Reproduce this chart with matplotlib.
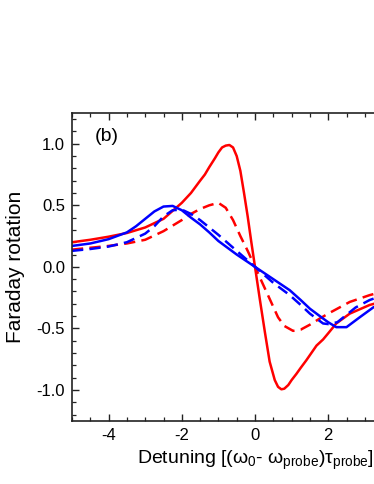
import matplotlib
matplotlib.use("Agg")
import matplotlib.pyplot as plt
from matplotlib.ticker import MultipleLocator, FormatStrFormatter

plt.rcParams['font.family'] = ['Liberation Sans', 'DejaVu Sans']
plt.rcParams['mathtext.fontset'] = 'custom'
plt.rcParams['mathtext.rm'] = 'Liberation Sans'
plt.rcParams['mathtext.it'] = 'Liberation Sans'
plt.rcParams['axes.unicode_minus'] = False

# Red solid
rs_x = [-5, -4.5, -4, -3.5, -3, -2.5, -2, -1.75, -1.5, -1.37, -1.25, -1.1, -1.0, -0.9, -0.8,
        -0.7, -0.6, -0.5, -0.4, -0.3, -0.2, -0.1, 0, 0.13, 0.27, 0.4, 0.54, 0.63, 0.72, 0.8,
        0.91, 1.0, 1.13, 1.25, 1.4, 1.68, 1.86, 2.0, 2.22, 2.59, 3.13, 3.5]
rs_y = [0.20, 0.22, 0.245, 0.275, 0.32, 0.39, 0.52, 0.60, 0.70, 0.75, 0.81, 0.88, 0.93, 0.97,
        0.985, 0.99, 0.97, 0.90, 0.78, 0.60, 0.41, 0.20, 0.0, -0.26, -0.53, -0.77, -0.92,
        -0.975, -0.995, -0.99, -0.96, -0.92, -0.87, -0.82, -0.76, -0.64, -0.59, -0.54, -0.46,
        -0.38, -0.31, -0.28]

# Red dashed
rd_x = [-5, -4.5, -4, -3.5, -3, -2.5, -2, -1.75, -1.5, -1.25, -1.0, -0.8, -0.6, -0.4, -0.2, 0,
        0.2, 0.4, 0.63, 0.8, 1.04, 1.25, 1.5, 1.77, 2.0, 2.59, 3.13, 3.5]
rd_y = [0.14, 0.155, 0.17, 0.19, 0.22, 0.29, 0.38, 0.43, 0.47, 0.50, 0.52, 0.48, 0.38, 0.25,
        0.13, 0.0, -0.13, -0.26, -0.41, -0.48, -0.52, -0.51, -0.47, -0.42, -0.38, -0.285,
        -0.23, -0.20]

# Blue solid
bs_x = [-5, -4.5, -4, -3.5, -3.25, -3, -2.75, -2.5, -2.25, -2, -1.75, -1.5, -1.25, -1.0, -0.5,
        0, 0.5, 0.95, 1.25, 1.5, 1.86, 2.0, 2.22, 2.5, 2.86, 3.23, 3.5]
bs_y = [0.17, 0.19, 0.225, 0.28, 0.33, 0.39, 0.45, 0.49, 0.495, 0.46, 0.40, 0.345, 0.28, 0.21,
        0.10, 0.0, -0.10, -0.19, -0.27, -0.34, -0.42, -0.45, -0.49, -0.49, -0.41, -0.33, -0.29]

# Blue dashed
bd_x = [-5, -4.5, -4, -3.5, -3, -2.75, -2.5, -2.25, -2, -1.75, -1.5, -1.25, -1.0, -0.5, 0, 0.5,
        0.95, 1.25, 1.5, 1.86, 2.0, 2.25, 2.5, 2.75, 3.13, 3.5]
bd_y = [0.13, 0.145, 0.165, 0.20, 0.27, 0.33, 0.41, 0.46, 0.465, 0.43, 0.38, 0.32, 0.26, 0.13,
        0.0, -0.13, -0.23, -0.31, -0.38, -0.46, -0.465, -0.45, -0.39, -0.33, -0.27, -0.23]

x_ticks = [-4, -2, 0, 2]
y_ticks = [-1.0, -0.5, 0.0, 0.5, 1.0]

fig = plt.figure(figsize=(3.74, 4.84), dpi=100)
ax = fig.add_axes([72/374, 1 - 420.7/484, 366/374, (420.7 - 113)/484])

lw = 1.8
ax.plot(rs_x, rs_y, color='#ff0000', lw=lw)
ax.plot(rd_x, rd_y, color='#ff0000', lw=lw, dashes=(4.5, 2.5))
ax.plot(bs_x, bs_y, color='#0000ff', lw=lw)
ax.plot(bd_x, bd_y, color='#0000ff', lw=lw, dashes=(4.5, 2.5))

ax.set_xlim(-5, 5)
ax.set_ylim(-1.25, 1.25)
ax.set_xticks(x_ticks)
ax.set_yticks(y_ticks)
ax.yaxis.set_major_formatter(FormatStrFormatter('%.1f'))
ax.xaxis.set_minor_locator(MultipleLocator(0.5))
ax.yaxis.set_minor_locator(MultipleLocator(0.1))
ax.tick_params(which='both', direction='in', top=True, right=True, labelsize=12,
               colors='#222222', labelcolor='black')
ax.tick_params(which='major', length=5, width=1.0, pad=5)
ax.tick_params(which='minor', length=3, width=0.9)
for s in ax.spines.values():
    s.set_linewidth(1.2)
    s.set_color('#222222')

ax.set_xlabel(r'Detuning [($\omega_0$- $\omega_{\rm probe}$)$\tau_{\rm probe}$]', fontsize=14, labelpad=2)
ax.xaxis.set_label_coords(183/366, -0.09)
ax.set_ylabel('Faraday rotation', fontsize=15, labelpad=8)
ax.text(-4.38, 1.057, '(b)', fontsize=14, ha='left', va='center')

fig.savefig('out.png', dpi=100)
